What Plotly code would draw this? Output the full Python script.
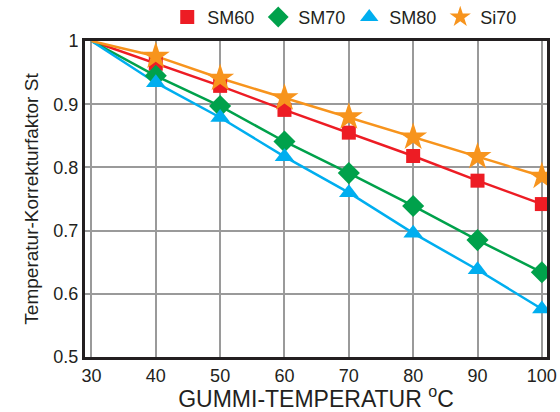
import plotly.graph_objects as go

temps = [30, 40, 50, 60, 70, 80, 90, 100]
sm60 = [1.0, 0.964, 0.929, 0.891, 0.855, 0.818, 0.779, 0.742]
sm70 = [1.0, 0.945, 0.897, 0.841, 0.791, 0.739, 0.685, 0.634]
sm80 = [1.0, 0.934, 0.879, 0.817, 0.760, 0.696, 0.638, 0.576]
si70 = [1.0, 0.976, 0.941, 0.910, 0.880, 0.848, 0.817, 0.786]

series = [
    ("SM60", sm60, "#ED1C24", "square", 14),
    ("SM70", sm70, "#00A14B", "diamond", 17),
    ("SM80", sm80, "#00AEEF", "triangle-up", 17),
    ("Si70", si70, "#F7941D", "star", 21),
]

FONT = "Liberation Sans, Arial, sans-serif"

fig = go.Figure()
# lines first (no legend entry), then markers on top, skipping the 30 degC anchor
for name, vals, color, symbol, size in series:
    fig.add_trace(go.Scatter(
        x=temps, y=vals, mode="lines", showlegend=False, hoverinfo="skip",
        line=dict(color=color, width=2.5)))
for name, vals, color, symbol, size in series:
    fig.add_trace(go.Scatter(
        x=temps[1:], y=vals[1:], name=name, mode="markers",
        marker=dict(symbol=symbol, color=color, size=size, opacity=1,
                    line=dict(width=0))))

axis = dict(showgrid=True, gridcolor="#9a9a9a", gridwidth=1.5,
            showline=True, linecolor="#231f20", linewidth=3, mirror=True,
            ticks="", zeroline=False, automargin=False,
            tickfont=dict(size=18, color="#231f20", family=FONT))

fig.update_layout(
    width=560, height=412,
    margin=dict(l=85, r=13, t=41, b=55, autoexpand=False),
    paper_bgcolor="white", plot_bgcolor="white",
    font=dict(family=FONT, color="#231f20"),
    showlegend=True,
    legend=dict(orientation="h", x=0.178, xanchor="left",
                yref="container", y=0.958, yanchor="middle",
                font=dict(size=18), itemsizing="trace", traceorder="normal",
                entrywidth=46, bgcolor="rgba(0,0,0,0)"),
    xaxis=dict(axis, range=[29, 100.8], tickvals=temps,
               title=dict(text="GUMMI-TEMPERATUR <sup>o</sup>C",
                          font=dict(size=23), standoff=8)),
    yaxis=dict(axis, range=[0.5, 1.0], dtick=0.1, tickformat="~g",
               title=dict(text="Temperatur-Korrekturfaktor St",
                          font=dict(size=19), standoff=10)),
)

# drop the default 8px page margin so the figure sits at the window corner
fig.write_html("out.html", config={"displayModeBar": False},
               post_script="document.body.style.margin='0';")
